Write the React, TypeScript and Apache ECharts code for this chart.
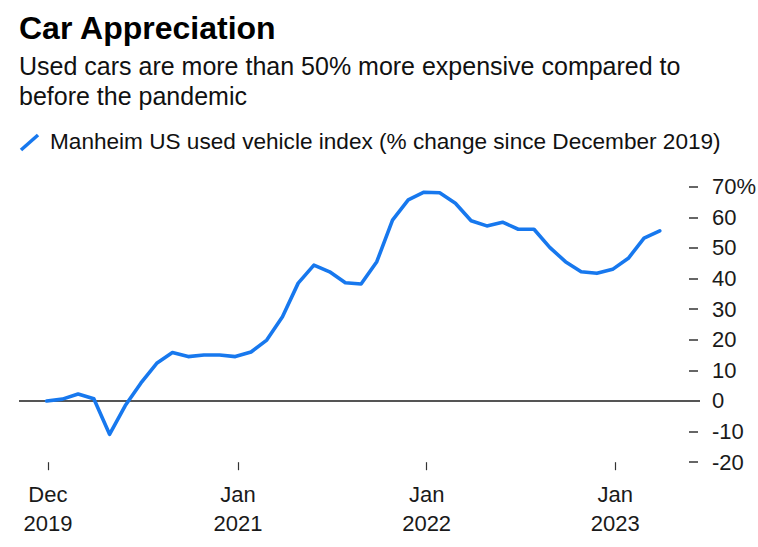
import React, { useEffect, useRef } from "react";
import * as echarts from "echarts";

// Monthly observations, Dec 2019 .. Mar 2023
const months = [
  "2019-12", "2020-01", "2020-02", "2020-03", "2020-04", "2020-05", "2020-06", "2020-07",
  "2020-08", "2020-09", "2020-10", "2020-11", "2020-12", "2021-01", "2021-02", "2021-03",
  "2021-04", "2021-05", "2021-06", "2021-07", "2021-08", "2021-09", "2021-10", "2021-11",
  "2021-12", "2022-01", "2022-02", "2022-03", "2022-04", "2022-05", "2022-06", "2022-07",
  "2022-08", "2022-09", "2022-10", "2022-11", "2022-12", "2023-01", "2023-02", "2023-03",
];
const indexChange = [
  0, 0.6, 2.3, 0.7, -10.9, -1.5, 5.9, 12.3,
  15.8, 14.5, 15.0, 15.0, 14.5, 16.0, 19.9, 27.5,
  38.5, 44.4, 42.2, 38.6, 38.2, 45.5, 59.1, 65.7,
  68.2, 68.0, 64.6, 58.9, 57.2, 58.4, 56.1, 56.1,
  50.2, 45.5, 42.2, 41.7, 43.0, 46.6, 53.2, 55.6,
];
// x tick positions (in months since Dec 2019) and their labels
const xTickPositions = [0.08, 12.17, 24.17, 36.17];
const xTickLabels = ["Dec\n2019", "Jan\n2021", "Jan\n2022", "Jan\n2023"];
const yTicks = [-20, -10, 0, 10, 20, 30, 40, 50, 60, 70];

const title = "Car Appreciation";
const subtitle1 = "Used cars are more than 50% more expensive compared to";
const subtitle2 = "before the pandemic";
const legendText = "Manheim US used vehicle index (% change since December 2019)";

const BLUE = "#1778ee";
const FONT = "'Liberation Sans', Arial, Helvetica, sans-serif";

export default function App() {
  const ref = useRef<HTMLDivElement>(null);
  useEffect(() => {
    if (!ref.current) return;
    const chart = echarts.init(ref.current, undefined, { renderer: "svg" });
    const seriesData = indexChange.map((v, i) => [i, v]);
    chart.setOption({
      animation: false,
      backgroundColor: "#ffffff",
      textStyle: { fontFamily: FONT },
      grid: {
        left: 19,
        right: 58,
        top: 186.7,
        bottom: 84.8,
        containLabel: false,
        outerBoundsMode: "none",
      },
      xAxis: {
        type: "value",
        min: -1.76,
        max: 41.56,
        axisLine: { show: false, onZero: false },
        splitLine: { show: false },
        axisTick: {
          show: true,
          customValues: xTickPositions,
          length: 8,
          lineStyle: { color: "#333", width: 1.2 },
        },
        axisLabel: {
          customValues: xTickPositions,
          formatter: (v: number) => {
            let best = 0;
            xTickPositions.forEach((p, i) => {
              if (Math.abs(p - v) < Math.abs(xTickPositions[best] - v)) best = i;
            });
            return xTickLabels[best];
          },
          fontSize: 22,
          lineHeight: 29,
          color: "#1a1a1a",
          margin: 17.5,
          fontFamily: FONT,
        },
      },
      yAxis: {
        type: "value",
        position: "right",
        offset: -11,
        min: -20,
        max: 70,
        interval: 10,
        axisLine: { show: false, onZero: false },
        splitLine: { show: false },
        axisTick: {
          show: true,
          length: 9,
          lineStyle: { color: "#333", width: 1.5 },
        },
        axisLabel: {
          margin: 23,
          fontSize: 22,
          color: "#1a1a1a",
          fontFamily: FONT,
          formatter: (v: number) => (v === yTicks[yTicks.length - 1] ? `${v}%` : `${v}`),
        },
      },
      series: [
        {
          type: "line",
          data: seriesData,
          showSymbol: false,
          symbol: "none",
          lineStyle: { color: BLUE, width: 3.6, join: "round", cap: "round" },
          z: 3,
          markLine: {
            silent: true,
            symbol: ["none", "none"],
            label: { show: false },
            lineStyle: { color: "#555", width: 2, type: "solid" },
            data: [{ yAxis: 0 }],
            z: 1,
          },
        },
      ],
      graphic: [
        {
          type: "text",
          left: 19,
          top: 12,
          style: {
            text: title,
            font: `bold 32px ${FONT}`,
            fill: "#000",
          },
        },
        {
          type: "text",
          left: 19,
          top: 51,
          style: {
            text: subtitle1 + "\n" + subtitle2,
            font: `25px ${FONT}`,
            lineHeight: 30,
            fill: "#111",
          },
        },
        {
          type: "line",
          shape: { x1: 21, y1: 150, x2: 38, y2: 135 },
          style: { stroke: BLUE, lineWidth: 3.5 },
        },
        {
          type: "text",
          left: 50,
          top: 130,
          style: {
            text: legendText,
            font: `22.6px ${FONT}`,
            fill: "#111",
          },
        },
      ],
    });
    return () => chart.dispose();
  }, []);
  return (
    <div
      ref={ref}
      style={{ position: "absolute", left: 0, top: 0, width: 758, height: 547, background: "#fff" }}
    />
  );
}
